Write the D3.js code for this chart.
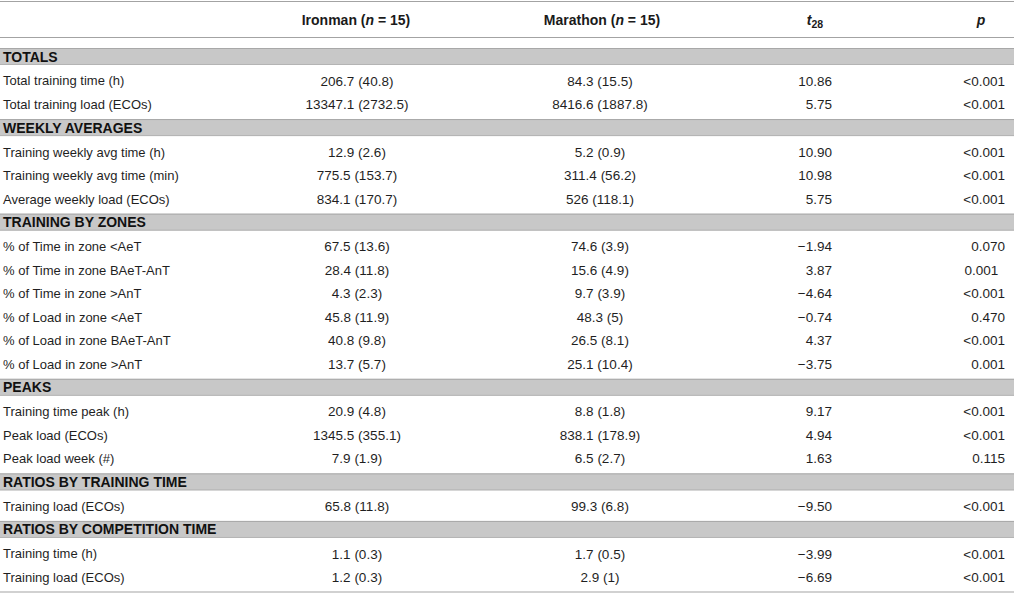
<!DOCTYPE html>
<html>
<head>
<meta charset="utf-8">
<script src="https://cdn.jsdelivr.net/npm/d3@7"></script>
<style>
body { margin: 0; background: #fff; }
svg { display: block; font-family: "Liberation Sans", Arial, sans-serif; }
</style>
</head>
<body>
<div class="content"></div>
<script>
const w = 1014;
const h = 595;

// table data
const groups = ['TOTALS', 'WEEKLY AVERAGES', 'TRAINING BY ZONES', 'PEAKS',
	'RATIOS BY TRAINING TIME', 'RATIOS BY COMPETITION TIME'];

const variables = [
	'Total training time (h)', 'Total training load (ECOs)',
	'Training weekly avg time (h)', 'Training weekly avg time (min)', 'Average weekly load (ECOs)',
	'% of Time in zone <AeT', '% of Time in zone BAeT-AnT', '% of Time in zone >AnT',
	'% of Load in zone <AeT', '% of Load in zone BAeT-AnT', '% of Load in zone >AnT',
	'Training time peak (h)', 'Peak load (ECOs)', 'Peak load week (#)',
	'Training load (ECOs)',
	'Training time (h)', 'Training load (ECOs)'
];

const groupOf = [0, 0, 1, 1, 1, 2, 2, 2, 2, 2, 2, 3, 3, 3, 4, 5, 5];

const ironman = ['206.7 (40.8)', '13347.1 (2732.5)', '12.9 (2.6)', '775.5 (153.7)', '834.1 (170.7)',
	'67.5 (13.6)', '28.4 (11.8)', '4.3 (2.3)', '45.8 (11.9)', '40.8 (9.8)', '13.7 (5.7)',
	'20.9 (4.8)', '1345.5 (355.1)', '7.9 (1.9)', '65.8 (11.8)', '1.1 (0.3)', '1.2 (0.3)'];

const marathon = ['84.3 (15.5)', '8416.6 (1887.8)', '5.2 (0.9)', '311.4 (56.2)', '526 (118.1)',
	'74.6 (3.9)', '15.6 (4.9)', '9.7 (3.9)', '48.3 (5)', '26.5 (8.1)', '25.1 (10.4)',
	'8.8 (1.8)', '838.1 (178.9)', '6.5 (2.7)', '99.3 (6.8)', '1.7 (0.5)', '2.9 (1)'];

const tStat = ['10.86', '5.75', '10.90', '10.98', '5.75',
	'\u22121.94', '3.87', '\u22124.64', '\u22120.74', '4.37', '\u22123.75',
	'9.17', '4.94', '1.63', '\u22129.50', '\u22123.99', '\u22126.69'];

const pValue = ['<0.001', '<0.001', '<0.001', '<0.001', '<0.001',
	'0.070', '0.001\u2002', '<0.001', '0.470', '<0.001', '0.001',
	'<0.001', '<0.001', '0.115', '<0.001', '<0.001', '<0.001'];

// layout in row units: band slot, then rows, then a small trailing gap
const bandU = 0.894;
const tailU = 0.128;
const items = [];
let u = 0;
groups.forEach((g, gi) => {
	items.push({ type: 'band', label: g, u0: u });
	u += bandU;
	variables.forEach((v, i) => {
		if (groupOf[i] !== gi) return;
		items.push({ type: 'row', i: i, u0: u });
		u += 1;
	});
	u += tailU;
});

const y = d3.scaleLinear().domain([0, u]).range([48, 592]);
const bandH = 17;

const cols = ['label', 'ironman', 'marathon', 't', 'p'];
const colX = d3.scaleOrdinal().domain(cols).range([3, 357, 600, 832, 1005]);
const colAnchor = d3.scaleOrdinal().domain(cols).range(['start', 'middle', 'middle', 'end', 'end']);
const colSize = d3.scaleOrdinal().domain(cols).range([13, 13.5, 13.5, 13.5, 13.5]);
const headX = d3.scaleOrdinal().domain(cols).range([3, 356, 602, 815, 981]);

const svg = d3.select('.content').append('svg')
	.attr('width', w)
	.attr('height', h);

// header
svg.append('line')
	.attr('x1', 0).attr('x2', w).attr('y1', 1.5).attr('y2', 1.5)
	.attr('stroke', '#a3a3a3').attr('stroke-width', 1.2);
svg.append('line')
	.attr('x1', 0).attr('x2', w).attr('y1', 37.5).attr('y2', 37.5)
	.attr('stroke', '#a3a3a3').attr('stroke-width', 1.2);

const head = svg.append('g')
	.attr('font-size', 14)
	.attr('font-weight', 'bold')
	.attr('fill', '#1a1a1a');

const hIron = head.append('text').attr('x', headX('ironman')).attr('y', 25).attr('text-anchor', 'middle');
hIron.append('tspan').text('Ironman (');
hIron.append('tspan').attr('font-style', 'italic').text('n');
hIron.append('tspan').text(' = 15)');

const hMar = head.append('text').attr('x', headX('marathon')).attr('y', 25).attr('text-anchor', 'middle');
hMar.append('tspan').text('Marathon (');
hMar.append('tspan').attr('font-style', 'italic').text('n');
hMar.append('tspan').text(' = 15)');

const hT = head.append('text').attr('x', headX('t')).attr('y', 25).attr('text-anchor', 'middle');
hT.append('tspan').attr('font-style', 'italic').text('t');
hT.append('tspan').attr('font-size', 10.5).attr('dy', 3).text('28');

head.append('text').attr('x', headX('p')).attr('y', 25).attr('text-anchor', 'middle')
	.attr('font-style', 'italic').text('p');

// group bands
const bands = svg.selectAll('g.band')
	.data(items.filter(d => d.type === 'band'))
	.enter()
	.append('g')
	.attr('class', 'band')
	.attr('transform', d => `translate(0,${y(d.u0)})`);

bands.append('rect')
	.attr('width', w)
	.attr('height', bandH)
	.attr('fill', '#c8c8c8');
bands.append('line')
	.attr('x1', 0).attr('x2', w).attr('y1', 0.5).attr('y2', 0.5)
	.attr('stroke', '#a8a8a8');
bands.append('line')
	.attr('x1', 0).attr('x2', w).attr('y1', bandH - 0.5).attr('y2', bandH - 0.5)
	.attr('stroke', '#b4b4b4');
bands.append('text')
	.attr('x', colX('label'))
	.attr('y', bandH / 2)
	.attr('dy', '0.36em')
	.attr('font-size', 14)
	.attr('font-weight', 'bold')
	.attr('fill', '#111')
	.text(d => d.label);

// data rows
const values = { label: variables, ironman: ironman, marathon: marathon, t: tStat, p: pValue };

const rows = svg.selectAll('g.row')
	.data(items.filter(d => d.type === 'row'))
	.enter()
	.append('g')
	.attr('class', 'row')
	.attr('transform', d => `translate(0,${y(d.u0 + 0.5)})`);

cols.forEach(c => {
	rows.append('text')
		.attr('x', colX(c))
		.attr('dy', '0.36em')
		.attr('text-anchor', colAnchor(c))
		.attr('font-size', colSize(c))
		.attr('fill', '#1f1f1f')
		.style('white-space', 'pre')
		.text(d => values[c][d.i]);
});

// bottom rule
svg.append('line')
	.attr('x1', 0).attr('x2', w).attr('y1', 592).attr('y2', 592)
	.attr('stroke', '#a3a3a3').attr('stroke-width', 1.2);
</script>
</body>
</html>
